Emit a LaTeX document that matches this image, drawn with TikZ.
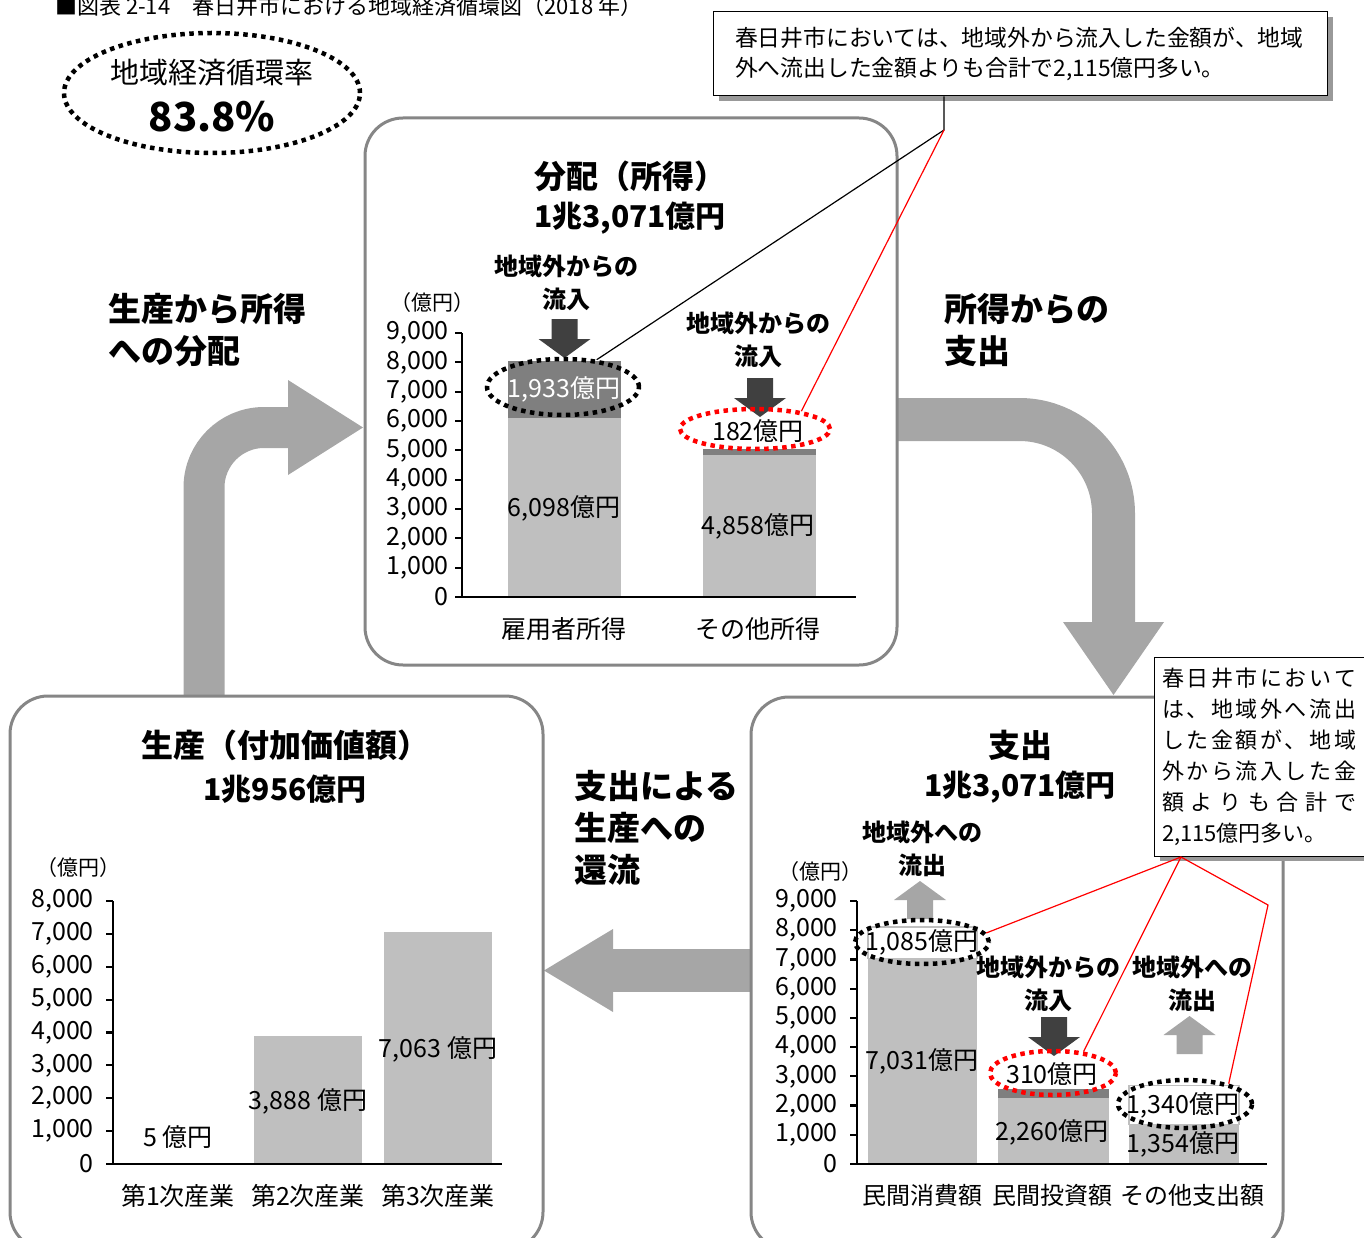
\documentclass[tikz,border=0pt]{standalone}
\usepackage{fontspec}
\setmainfont{Noto Sans CJK JP}
\usetikzlibrary{shapes.geometric,shadows}

\definecolor{panelgray}{HTML}{868686}
\definecolor{flowgray}{HTML}{A6A6A6}
\definecolor{barlight}{HTML}{BFBFBF}
\definecolor{bardark}{HTML}{7F7F7F}
\definecolor{indark}{HTML}{404040}

\newcommand{\fsz}[2]{\fontsize{#1}{#2}\selectfont}
% small block arrows: centre x, top y, colour
\newcommand{\downblock}[3]{\fill[#3] (#1-13,#2) -- (#1+13,#2) -- (#1+13,#2+20) -- (#1+26,#2+20) -- (#1,#2+39) -- (#1-26,#2+20) -- (#1-13,#2+20) -- cycle;}
\newcommand{\upblock}[3]{\fill[#3] (#1,#2) -- (#1+26,#2+19) -- (#1+13,#2+19) -- (#1+13,#2+38) -- (#1-13,#2+38) -- (#1-13,#2+19) -- (#1-26,#2+19) -- cycle;}
\newcommand{\jline}[1]{\makebox[194pt][s]{#1}}

\tikzset{
  panel/.style={draw=panelgray,line width=3pt,fill=white,rounded corners=38pt},
  axisline/.style={line width=2.2pt},
  ticklab/.style={anchor=east,inner sep=0pt,font=\fsz{25}{25}},
  unitlab/.style={inner sep=0pt,font=\fsz{21}{21}},
  catlab/.style={inner sep=0pt,font=\fsz{25}{25}},
  vallab/.style={inner sep=0pt,font=\fsz{25}{25}},
  flowlab/.style={anchor=west,align=left,inner sep=0pt,font=\bfseries\fsz{33}{42}},
  headlab/.style={inner sep=0pt,font=\bfseries\fsz{32}{32}},
  sumlab/.style={inner sep=0pt,font=\bfseries\fsz{30}{30}},
  boldnote/.style={align=center,inner sep=0pt,font=\bfseries\fsz{24}{33}},
  ring/.style={ellipse,draw,line width=4.5pt,dash pattern=on 4.5pt off 4.5pt,inner sep=0pt},
  callout/.style={draw,line width=1pt,fill=white,align=left,inner ysep=0pt,
    drop shadow={shadow xshift=6pt,shadow yshift=-5pt,fill=black!40,opacity=1}},
  leader/.style={line width=1.2pt}
}

\begin{document}
\begin{tikzpicture}[x=1pt,y=-1pt]
\useasboundingbox (0,0) rectangle (1364,1238);

% heading
\node[anchor=base west,inner sep=0pt,font=\fsz{22}{22}] (fighead) at (55,15) {■図表 2-14　春日井市における地域経済循環図（2018 年）};

% circulation ratio
\node[ring,minimum width=296pt,minimum height=120pt] (ratio) at (212,93) {};
\node[inner sep=0pt,font=\fsz{29}{29}] (ratiotxt) at (212,73) {地域経済循環率};
\node[inner sep=0pt,font=\bfseries\fsz{40}{40}] (ratioval) at (212,117) {83.8\%};

% flow arrows
\draw[flowgray,line width=41pt,rounded corners=60pt] (204,700) |- (292,427.5);
\fill[flowgray] (288,380) -- (363,427.5) -- (288,475) -- cycle;
\draw[flowgray,line width=43pt,rounded corners=94pt] (890,419.5) -| (1113.5,626);
\fill[flowgray] (1063,622) -- (1164,622) -- (1113.5,695) -- cycle;
\fill[flowgray] (610,949) rectangle (760,992);
\fill[flowgray] (613,929) -- (544,970.5) -- (613,1012) -- cycle;

% panels
\draw[panel] (365,118) rectangle (897,665);
\draw[panel] (10,696) rectangle (543,1250);
\draw[panel] (751,697) rectangle (1283,1250);

\node[flowlab] (lab1) at (108,330.5) {生産から所得\\への分配};
\node[flowlab] (lab2) at (944,330) {所得からの\\支出};
\node[flowlab] (lab3) at (574,828) {支出による\\生産への\\還流};

% distribution (income)
\node[headlab] (distttl) at (630,176) {分配（所得）};
\node[sumlab] (distsum) at (630,218) {1兆3,071億円};
\node[unitlab] (unitA) at (432,303) {（億円）};
\fill[barlight] (508,597) rectangle (621,418.1);
\fill[bardark] (508,418.1) rectangle (621,361.4);
\fill[barlight] (703,597) rectangle (816,454.5);
\fill[bardark] (703,454.5) rectangle (816,449.2);
\foreach \lab [count=\k from 0] in {0,{1,000},{2,000},{3,000},{4,000},{5,000},{6,000},{7,000},{8,000},{9,000}}{
  \draw[axisline] (455,597-29.333*\k) -- (462,597-29.333*\k);
  \node[ticklab] (tA\k) at (449,597-29.333*\k) {\lab};
}
\draw[axisline] (462,333) -- (462,598);
\draw[axisline] (455,597) -- (856,597);
\node[vallab] (v6098) at (564,508) {6,098億円};
\node[vallab,white] (v1933) at (564,389) {1,933億円};
\node[vallab] (v4858) at (758,526) {4,858億円};
\node[vallab] (v182) at (758,431) {182億円};
\node[catlab] (cA1) at (564,629) {雇用者所得};
\node[catlab] (cA2) at (758,629) {その他所得};
\node[boldnote] (inA1) at (566,282.5) {地域外からの\\流入};
\node[boldnote] (inA2) at (758,339.5) {地域外からの\\流入};
\downblock{564.5}{319}{indark}
\downblock{760}{378}{indark}
\node[ring,minimum width=152pt,minimum height=56pt] (r1933) at (563,387) {};
\node[ring,red,minimum width=150pt,minimum height=40pt] (r182) at (755,429) {};

% production (value added)
\node[headlab] (prodttl) at (285,745) {生産（付加価値額）};
\node[sumlab] (prodsum) at (285,789) {1兆956億円};
\node[unitlab] (unitB) at (78,868) {（億円）};
\fill[barlight] (125,1164) rectangle (232,1163.8);
\fill[barlight] (254,1164) rectangle (362,1036.2);
\fill[barlight] (384,1164) rectangle (492,931.8);
\foreach \lab [count=\k from 0] in {0,{1,000},{2,000},{3,000},{4,000},{5,000},{6,000},{7,000},{8,000}}{
  \draw[axisline] (106,1164-32.875*\k) -- (113,1164-32.875*\k);
  \node[ticklab] (tB\k) at (94,1164-32.875*\k) {\lab};
}
\draw[axisline] (113,901) -- (113,1165);
\draw[axisline] (106,1164) -- (502,1164);
\node[vallab] (v5) at (178,1137) {5 億円};
\node[vallab] (v3888) at (308,1101) {3,888 億円};
\node[vallab] (v7063) at (438,1049) {7,063 億円};
\node[catlab] (cB1) at (178,1196) {第1次産業};
\node[catlab] (cB2) at (308,1196) {第2次産業};
\node[catlab] (cB3) at (438,1196) {第3次産業};

% expenditure
\node[headlab] (spendttl) at (1020,745) {支出};
\node[sumlab] (spendsum) at (1020,787) {1兆3,071億円};
\node[unitlab] (unitC) at (820,872) {（億円）};
\fill[barlight] (868,1164) rectangle (977,958.5);
\filldraw[fill=white,draw=barlight,line width=1.5pt] (868,958.5) rectangle (977,926.8);
\fill[barlight] (998,1164) rectangle (1109,1098);
\fill[bardark] (998,1098) rectangle (1109,1088.9);
\fill[barlight] (1129,1164) rectangle (1239,1124.4);
\filldraw[fill=white,draw=barlight,line width=1.5pt] (1129,1124.4) rectangle (1239,1085.3);
\foreach \lab [count=\k from 0] in {0,{1,000},{2,000},{3,000},{4,000},{5,000},{6,000},{7,000},{8,000},{9,000}}{
  \draw[axisline] (850,1164-29.222*\k) -- (857,1164-29.222*\k);
  \node[ticklab] (tC\k) at (838,1164-29.222*\k) {\lab};
}
\draw[axisline] (857,901) -- (857,1165);
\draw[axisline] (850,1164) -- (1267,1164);
\node[vallab] (v7031) at (922,1061) {7,031億円};
\node[vallab] (v1085) at (922,942) {1,085億円};
\node[vallab] (v2260) at (1052,1132) {2,260億円};
\node[vallab] (v310) at (1052,1074) {310億円};
\node[vallab] (v1354) at (1183,1144) {1,354億円};
\node[vallab] (v1340) at (1183,1105) {1,340億円};
\node[catlab,font=\fsz{24}{24}] (cC1) at (922,1195) {民間消費額};
\node[catlab,font=\fsz{24}{24}] (cC2) at (1052,1195) {民間投資額};
\node[catlab,font=\fsz{24}{24}] (cC3) at (1192,1195) {その他支出額};
\node[boldnote] (outC1) at (922,848.5) {地域外への\\流出};
\node[boldnote] (inC2) at (1048,983.5) {地域外からの\\流入};
\node[boldnote] (outC3) at (1192,983.5) {地域外への\\流出};
\upblock{920}{881}{flowgray}
\downblock{1054}{1017}{indark}
\upblock{1189.5}{1016}{flowgray}
\node[ring,minimum width=134pt,minimum height=44pt] (r1085) at (922,942) {};
\node[ring,red,minimum width=126pt,minimum height=44pt] (r310) at (1053,1073) {};
\node[ring,minimum width=134pt,minimum height=48pt] (r1340) at (1185,1104) {};

% notes
\node[callout,text width=570pt,inner xsep=22pt,minimum height=84pt,font=\fsz{22.8}{30}] (noteA) at (1020,54)
  {春日井市においては、地域外から流入した金額が、地域\\外へ流出した金額よりも合計で2,115億円多い。};
\node[callout,text width=194pt,inner xsep=8pt,minimum height=199pt,font=\fsz{22}{31}] (noteB) at (1259,756.5)
  {\jline{春\hfil 日\hfil 井\hfil 市\hfil に\hfil お\hfil い\hfil て}\\
   \jline{は\hfil 、\hfil 地\hfil 域\hfil 外\hfil へ\hfil 流\hfil 出}\\
   \jline{し\hfil た\hfil 金\hfil 額\hfil が\hfil 、\hfil 地\hfil 域}\\
   \jline{外\hfil か\hfil ら\hfil 流\hfil 入\hfil し\hfil た\hfil 金}\\
   \jline{額\hfil よ\hfil り\hfil も\hfil 合\hfil 計\hfil で}\\
   2,115億円多い。};

\coordinate (jA) at (944,130);
\draw[leader] (noteA.south -| jA) -- (jA) -- (r1933.39);
\draw[leader,red] (jA) -- (r182.21);
\coordinate (jB) at (1181,857);
\coordinate (kB) at (1268,905);
\draw[leader,red] (jB) -- (r1085.8);
\draw[leader,red] (jB) -- (r310.35);
\draw[leader,red] (jB) -- (kB) -- (r1340.25);
\end{tikzpicture}
\end{document}
